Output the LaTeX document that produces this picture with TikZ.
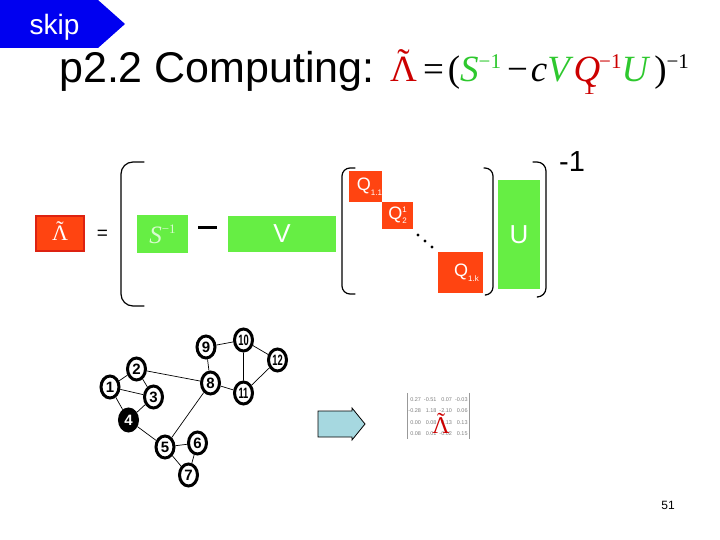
\documentclass[tikz,border=0pt]{standalone}
\usepackage{fontspec}
\setmainfont{Liberation Sans}
\newfontfamily\timesfont{Liberation Serif}
\usepackage{graphicx}
\usepackage{tikz}
\usetikzlibrary{shapes.geometric}
\definecolor{skipblue}{HTML}{0000F0}
\definecolor{eqred}{HTML}{CC0000}
\definecolor{eqgreen}{HTML}{2EC82E}
\definecolor{boxred}{HTML}{FF4411}
\definecolor{boxredge}{HTML}{DD2211}
\definecolor{boxgreen}{HTML}{66EE44}
\definecolor{arrowcyan}{HTML}{A6D8E0}

\newcommand{\fsz}[1]{\fontsize{#1}{#1}\selectfont}
\newcommand{\powm}{\raisebox{13pt}{\fsz{21}−1}}
\newcommand{\tlam}{\ooalign{Λ\cr\hidewidth\raisebox{0.2em}{˜}\hidewidth\cr}}
\newcommand{\squeezed}[1]{\scalebox{0.62}[1]{#1}}

\begin{document}
\begin{tikzpicture}[
    x=1pt, y=-1pt,
    font=\fsz{15},
    redbox/.style={fill=boxred, text=white, inner sep=0pt},
    greenbox/.style={fill=boxgreen, text=white, inner sep=0pt},
    bracketline/.style={line width=1.2pt, line cap=round},
    vertex/.style={ellipse, draw=black, line width=3pt, fill=white,
                   minimum width=18pt, minimum height=22pt, inner sep=0pt,
                   font=\fsz{15}\bfseries},
    graphedge/.style={line width=0.7pt},
    matbracket/.style={draw=black!40, line width=0.4pt},
  ]
  \useasboundingbox (0,0) rectangle (720,540);

  % -----------------------------------------------------------
  % Header
  % -----------------------------------------------------------
  \fill[skipblue] (0,0) -- (98,0) -- (125,24) -- (98,48) -- (0,48) -- cycle;
  \node[anchor=base, text=white, font=\fsz{28}] (skip) at (54.5,35) {skip};
  \node[anchor=base west, inner sep=0pt, font=\fsz{43}] (title) at (59,83)
        {p2.2 Computing:};
  \node[anchor=base west, inner sep=0pt, font=\timesfont\fsz{37}] (formula)
        at (390,82)
        {\textcolor{eqred}{\tlam}\hspace{6pt}=\hspace{4pt}(\textcolor{eqgreen}{\textit{S}\powm}%
         \hspace{6pt}−\hspace{3pt}\textit{c}\textcolor{eqgreen}{\textit{V}}%
         \textcolor{eqred}{\textit{Q}\kern-17pt\raisebox{-13pt}{\fsz{24}1}\kern4pt\powm}%
         \textcolor{eqgreen}{\textit{U}}\hspace{4pt})\powm};

  % -----------------------------------------------------------
  % Block picture of the formula
  % -----------------------------------------------------------
  \node[redbox, draw=boxredge, line width=2pt, minimum width=48pt,
        minimum height=35pt, font=\timesfont\fsz{22}] (lambox) at (60,233.5) {\tlam};
  \node[font=\fsz{19}] (eqsign) at (102.5,234.5) {=};
  \node[greenbox, minimum width=51pt, minimum height=37pt,
        text=white!75!boxgreen, font=\timesfont\fsz{25}] (sinv) at (162.5,234)
        {\textit{S}\raisebox{10pt}{\fsz{13}−1}};
  \node[fill=black, minimum width=19pt, minimum height=3pt, inner sep=0pt]
        (minusbar) at (207.5,227.5) {};
  \node[greenbox, minimum width=108pt, minimum height=36pt, font=\fsz{26}]
        (vbox) at (282,234) {V};

  \node[redbox, minimum width=33pt, minimum height=31pt] (q11) at (365.5,186.5)
        {\hspace{8pt}\fsz{18}Q\raisebox{-5pt}{\fsz{8}1.1}};
  \node[redbox, minimum width=31pt, minimum height=27pt] (q2) at (397.5,215.5)
        {\fsz{18}Q\rlap{\raisebox{7pt}{\fsz{8}1}}\raisebox{-4pt}{\fsz{8}2}};
  \node[redbox, minimum width=45pt, minimum height=41pt] (q1k) at (460.5,272.5)
        {\hspace{12pt}\raisebox{-3pt}{\fsz{18}Q\raisebox{-5pt}{\fsz{8}1.k}}};
  \foreach \px/\py in {418/235, 425/241, 432/247}
    \fill (\px,\py) circle (1.6pt);

  \node[greenbox, minimum width=42pt, minimum height=109pt, font=\fsz{26}]
        (ubox) at (519,234.5) {U};
  \node[font=\fsz{29}, inner sep=0pt] (outexp) at (572,161.5) {-1};

  % brackets
  \draw[bracketline, rounded corners=12pt] (144,162) -| (121,306) -- (144,306);
  \draw[bracketline, rounded corners=8pt] (355,168) -| (342,294) -- (355,294);
  \draw[bracketline, rounded corners=8pt] (484,168) -| (493,295) -- (486,295);
  \draw[bracketline, rounded corners=9pt] (533,162) -| (546,297) -- (538,297);

  % -----------------------------------------------------------
  % Graph
  % -----------------------------------------------------------
  \node[vertex] (n1)  at (110,387)   {1};
  \node[vertex] (n2)  at (136.5,369) {2};
  \node[vertex] (n3)  at (153.5,397) {3};
  \node[vertex, fill=black, text=white] (n4) at (128.5,420) {4};
  \node[vertex] (n5)  at (165,447)   {5};
  \node[vertex] (n6)  at (197.5,443) {6};
  \node[vertex] (n7)  at (188.5,475) {7};
  \node[vertex] (n8)  at (210.5,383) {8};
  \node[vertex] (n9)  at (206,347)   {9};
  \node[vertex] (n10) at (243.5,340) {\squeezed{10}};
  \node[vertex] (n11) at (243.5,393) {\squeezed{11}};
  \node[vertex] (n12) at (277.5,360) {\squeezed{12}};

  \draw[graphedge] (n1) -- (n2)  (n1) -- (n3)  (n1) -- (n4)  (n2) -- (n3)
                   (n2) -- (n8)  (n3) -- (n4)  (n4) -- (n5)  (n5) -- (n8)
                   (n5) -- (n6)  (n5) -- (n7)  (n6) -- (n7)  (n8) -- (n9)
                   (n8) -- (n11) (n9) -- (n10) (n10) -- (n11) (n10) -- (n12)
                   (n11) -- (n12);

  % -----------------------------------------------------------
  % Result
  % -----------------------------------------------------------
  \filldraw[fill=arrowcyan, draw=black, line width=0.8pt]
    (318,411) -- (352,411) -- (352,408) -- (365,424) -- (352,440)
    -- (352,437) -- (318,437) -- cycle;

  \node[inner sep=0pt, text=black!50, font=\fontsize{5.5}{11.5}\selectfont]
        (lammat) at (438,416)
        {\begin{tabular}{@{}r@{\hspace{3pt}}r@{\hspace{3pt}}r@{\hspace{3pt}}r@{}}
          0.27 & -0.51 & 0.07 & -0.03\\
          -0.28 & 1.18 & -2.10 & 0.06\\
          0.00 & 0.08 & 0.13 & 0.13\\
          0.08 & 0.01 & -0.02 & 0.15
         \end{tabular}};
  \draw[matbracket] ([xshift=-1.5pt]lammat.north west) -- ([xshift=-1.5pt]lammat.south west);
  \draw[matbracket] ([xshift=1.5pt]lammat.north east) -- ([xshift=1.5pt]lammat.south east);
  \node[text=eqred, font=\timesfont\fsz{24}, inner sep=0pt] (lamsmall)
        at (441,426) {\tlam};

  \node[font=\fsz{12}] (pagenum) at (668,505) {51};
\end{tikzpicture}
\end{document}
